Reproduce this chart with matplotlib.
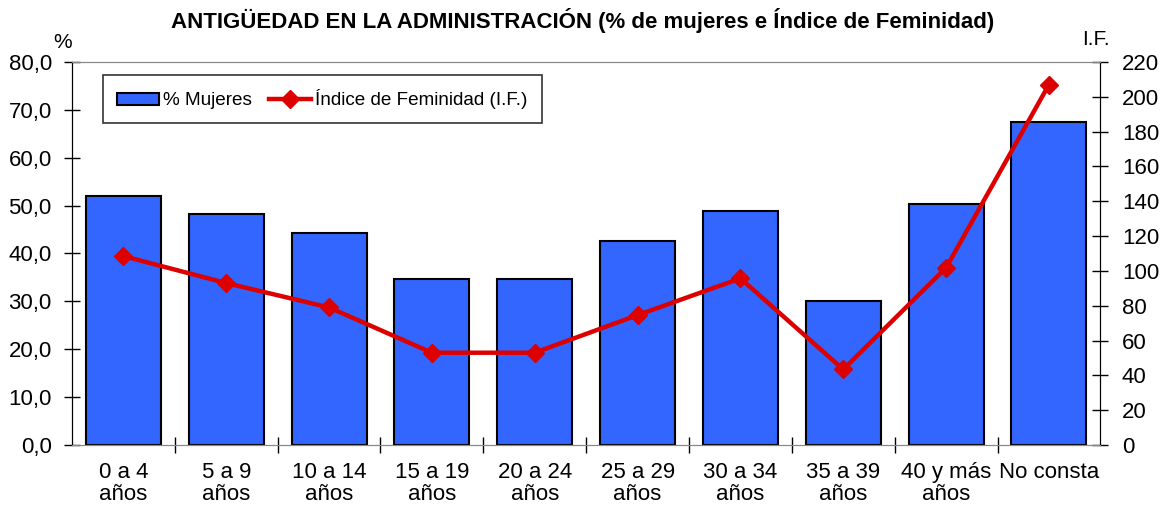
import matplotlib.pyplot as plt
from matplotlib.ticker import FuncFormatter

plt.rcParams['font.family'] = ['Liberation Sans', 'DejaVu Sans']

categorias = ['0 a 4\naños', '5 a 9\naños', '10 a 14\naños', '15 a 19\naños', '20 a 24\naños',
              '25 a 29\naños', '30 a 34\naños', '35 a 39\naños', '40 y más\naños', 'No consta']
pct_mujeres = [52.0, 48.3, 44.2, 34.7, 34.6, 42.7, 48.9, 30.1, 50.4, 67.4]
indice_fem = [108.5, 93.0, 79.0, 53.0, 53.0, 74.6, 95.7, 43.4, 101.8, 207.0]

fig = plt.figure(figsize=(11.66, 5.11), dpi=100)
ax = fig.add_axes([0.0617, 0.1292, 0.882, 0.7495])
ax2 = ax.twinx()

x = list(range(len(categorias)))
barras = ax.bar(x, pct_mujeres, width=0.73, color='#3366FF', edgecolor='black', linewidth=1.5,
                label='% Mujeres', zorder=2)
linea, = ax2.plot(x, indice_fem, color='#DD0000', linewidth=3.2, marker='D', markersize=9,
                  label='Índice de Feminidad (I.F.)', zorder=3)

ax.set_xlim(-0.5, len(categorias) - 0.5)
ax.set_ylim(0, 80)
ax2.set_ylim(0, 220)
ax.set_yticks(range(0, 81, 10))
ax2.set_yticks(range(0, 221, 20))
ax.yaxis.set_major_formatter(FuncFormatter(lambda v, p: f'{v:.1f}'.replace('.', ',')))

ax.set_xticks(x)
ax.set_xticklabels(categorias, fontsize=16, linespacing=1.1)
ax.set_xticks([i + 0.5 for i in x[:-1]], minor=True)
ax.tick_params(axis='x', which='major', length=0, pad=12)
ax.tick_params(axis='x', which='minor', direction='inout', length=12, width=1)
ax.tick_params(axis='y', direction='inout', length=11, width=1, labelsize=16, pad=9)
ax2.tick_params(axis='y', direction='inout', length=11, width=1, labelsize=16, pad=10)

for a in (ax, ax2):
    a.spines['top'].set_color('#888888')
    a.spines['bottom'].set_color('#888888')
    a.spines['left'].set_color('black')
    a.spines['right'].set_color('black')
ax.set_zorder(ax2.get_zorder() - 1)
ax2.patch.set_visible(False)

leg = ax2.legend([barras, linea], ['% Mujeres', 'Índice de Feminidad (I.F.)'], loc='upper left',
                 bbox_to_anchor=(0.03, 0.966), ncol=2, fontsize=13.6, frameon=True, fancybox=False,
                 edgecolor='black', handlelength=2.2, handleheight=0.6, columnspacing=0.9,
                 handletextpad=0.25, borderpad=0.75, borderaxespad=0)
leg.get_frame().set_linewidth(1.2)

fig.text(0.5, 0.96, 'ANTIGÜEDAD EN LA ADMINISTRACIÓN (% de mujeres e Índice de Feminidad)',
         ha='center', va='center', fontsize=16, fontweight='bold')
fig.text(0.054, 0.916, '%', ha='center', va='center', fontsize=15)
fig.text(0.94, 0.922, 'I.F.', ha='center', va='center', fontsize=15)

fig.savefig('out.png', dpi=100)
